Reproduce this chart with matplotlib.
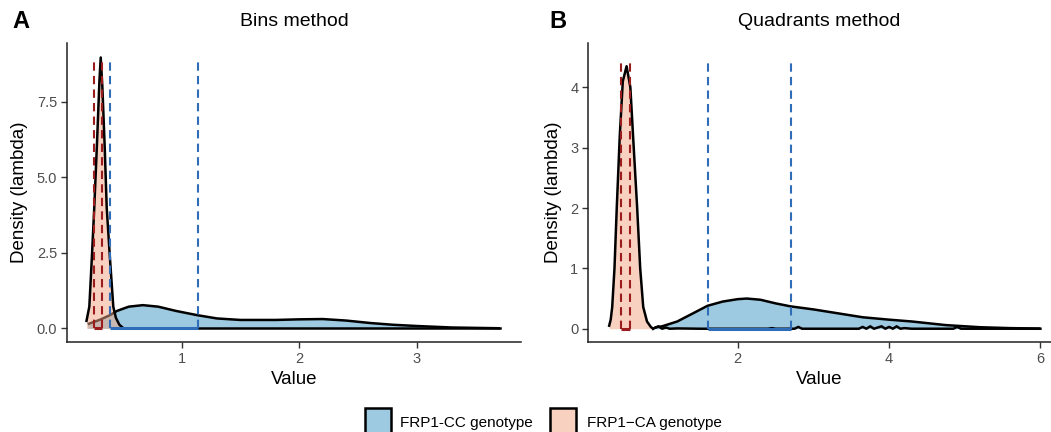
import matplotlib
matplotlib.use("Agg")
import matplotlib.pyplot as plt
from matplotlib.patches import Rectangle

plt.rcParams['font.family'] = ['Liberation Sans', 'DejaVu Sans']

# ---- data: panel A (Bins method) ----
a_blue_x = [0.20, 0.30, 0.39, 0.45, 0.55, 0.67, 0.80, 0.95, 1.13, 1.30, 1.50, 1.80, 2.00, 2.20, 2.40, 2.60, 2.80, 3.00, 3.30, 3.71]
a_blue_y = [0.14, 0.28, 0.44, 0.58, 0.72, 0.77, 0.72, 0.58, 0.44, 0.33, 0.28, 0.28, 0.30, 0.31, 0.26, 0.18, 0.12, 0.08, 0.03, 0.005]
a_red_x = [0.19, 0.214, 0.235, 0.256, 0.28, 0.30, 0.311, 0.325, 0.345, 0.362, 0.39, 0.418, 0.44, 0.47, 0.50]
a_red_y = [0.25, 0.72, 2.3, 4.0, 6.2, 8.2, 8.97, 8.0, 6.0, 4.0, 2.3, 0.72, 0.35, 0.12, 0.02]
a_base_x = [0.45, 3.71]
a_base_y = [0.0, 0.0]
a_blue_q = [0.387, 1.139]
a_red_q = [0.256, 0.319]
a_vline_top = 8.88

# ---- data: panel B (Quadrants method) ----
b_blue_x = [0.90, 1.0, 1.2, 1.4, 1.6, 1.8, 2.0, 2.12, 2.3, 2.5, 2.7, 3.0, 3.3, 3.65, 4.0, 4.3, 4.75, 5.2, 5.6, 6.0]
b_blue_y = [0.02, 0.04, 0.12, 0.25, 0.38, 0.45, 0.49, 0.50, 0.48, 0.42, 0.37, 0.32, 0.26, 0.19, 0.15, 0.12, 0.06, 0.025, 0.01, 0.003]
b_red_x = [0.30, 0.32, 0.34, 0.37, 0.40, 0.44, 0.48, 0.53, 0.58, 0.62, 0.67, 0.71, 0.75, 0.80, 0.85, 0.88]
b_red_y = [0.05, 0.15, 0.36, 1.0, 2.0, 3.2, 4.1, 4.35, 4.0, 3.1, 2.0, 1.0, 0.36, 0.12, 0.03, 0.0]
b_base_x = [0.88, 0.95, 1.0, 1.05, 1.1, 1.2, 1.5, 2.4, 2.45, 2.5, 2.75, 2.8, 2.85, 3.6, 3.65, 3.7, 3.75, 3.8, 3.85,
            3.9, 3.95, 4.0, 4.05, 4.1, 4.15, 4.2, 4.3, 4.85, 4.9, 4.95, 5.2, 6.0]
b_base_y = [0.0, 0.04, 0.0, 0.02, 0.0, 0.005, 0.0, 0.0, 0.01, 0.0, 0.0, 0.03, 0.0, 0.0, 0.03, 0.0, 0.04, 0.0, 0.02,
            0.04, 0.0, 0.03, 0.0, 0.04, 0.0, 0.01, 0.0, 0.0, 0.03, 0.0, 0.0, 0.0]
b_blue_q = [1.604, 2.70]
b_red_q = [0.46, 0.58]
b_vline_top = 4.45

legend_labels = ["FRP1-CC genotype", "FRP1\u2212CA genotype"]

BLUE_FILL = '#9ECAE1'
RED_FILL = '#F4A582'
BLUE_LINE = '#2F6DB8'
RED_LINE = '#9B1C1C'

W, H = 1051, 432
fig = plt.figure(figsize=(W / 100, H / 100), dpi=100)

def px_axes(l, r, t, b):
    return fig.add_axes([l / W, (H - b) / H, (r - l) / W, (b - t) / H])

axA = px_axes(67, 521, 43, 342)
axB = px_axes(588, 1051, 43, 342)

def draw(ax, bx, by, rx, ry, basex, basey, bq, rq, vtop):
    ax.fill_between(bx, 0, by, color=BLUE_FILL, lw=0, zorder=1)
    ax.plot(bx, by, color='black', lw=1.8, zorder=2, solid_capstyle='butt')
    ax.plot(basex, basey, color='black', lw=1.8, zorder=2)
    ax.fill_between(rx, 0, ry, color=RED_FILL, alpha=0.5, lw=0, zorder=3)
    ax.plot(rx, ry, color='black', lw=1.8, zorder=4)
    for q in bq:
        ax.plot([q, q], [0, vtop], color=BLUE_LINE, lw=1.5, ls=(0, (4, 2.5)), zorder=5)
    for q in rq:
        ax.plot([q, q], [0, vtop], color=RED_LINE, lw=1.5, ls=(0, (4, 2.5)), zorder=5)
    ax.plot(bq, [0, 0], color=BLUE_LINE, lw=2.2, zorder=6, solid_capstyle='butt')
    ax.plot(rq, [0, 0], color=RED_LINE, lw=2.2, zorder=6, solid_capstyle='butt')
    for s in ['top', 'right']:
        ax.spines[s].set_visible(False)
    for s in ['left', 'bottom']:
        ax.spines[s].set_linewidth(1.1)
        ax.spines[s].set_color('#222222')
    ax.tick_params(axis='both', length=4, width=1.0, color='#333333', labelcolor='#4D4D4D', labelsize=10.5, pad=3)
    ax.set_xlabel('Value', fontsize=13.5, labelpad=4)
    ax.set_ylabel('Density (lambda)', fontsize=13.5, labelpad=6)

draw(axA, a_blue_x, a_blue_y, a_red_x, a_red_y, a_base_x, a_base_y, a_blue_q, a_red_q, a_vline_top)
axA.set_xlim(0.024, 3.888)
axA.set_ylim(-0.45, 9.45)
axA.set_xticks([1, 2, 3])
axA.set_yticks([0, 2.5, 5.0, 7.5])
axA.set_yticklabels(['0.0', '2.5', '5.0', '7.5'])
axA.set_title('Bins method', fontsize=14, pad=12)

draw(axB, b_blue_x, b_blue_y, b_red_x, b_red_y, b_base_x, b_base_y, b_blue_q, b_red_q, b_vline_top)
axB.set_xlim(0.02, 6.14)
axB.set_ylim(-0.22, 4.735)
axB.set_xticks([2, 4, 6])
axB.set_yticks([0, 1, 2, 3, 4])
axB.set_title('Quadrants method', fontsize=14, pad=12)

fig.text(12 / W, 1 - 22 / H, 'A', fontsize=17, fontweight='bold', va='center', ha='left')
fig.text(549 / W, 1 - 22 / H, 'B', fontsize=17, fontweight='bold', va='center', ha='left')

# legend
keys = [(365, BLUE_FILL, 1.0), (550, RED_FILL, 0.5)]
text_x = [400, 587]
for (kx, col, a), tx, lab in zip(keys, text_x, legend_labels):
    fig.patches.append(Rectangle((kx / W, (H - 436) / H), 26 / W, 28 / H, transform=fig.transFigure,
                                 facecolor=col, alpha=None, edgecolor='none', clip_on=False))
    if a < 1:
        fig.patches[-1].set_facecolor((0.957, 0.647, 0.51, 0.5))
    fig.patches.append(Rectangle((kx / W, (H - 436) / H), 26 / W, 28 / H, transform=fig.transFigure,
                                 facecolor='none', edgecolor='black', lw=1.8, clip_on=False))
    fig.text(tx / W, 1 - 423 / H, lab, fontsize=11, va='center', ha='left')

fig.savefig('out.png', dpi=100)
